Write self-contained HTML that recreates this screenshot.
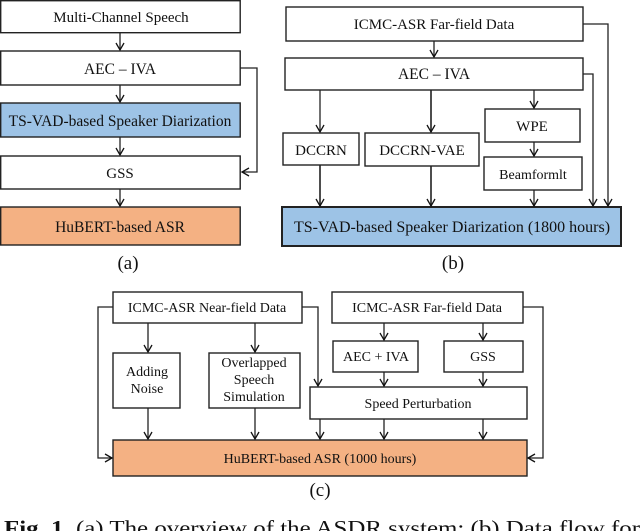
<!DOCTYPE html>
<html><head><meta charset="utf-8"><style>
html,body{margin:0;padding:0;background:#fff}
svg{display:block}
text{font-family:"Liberation Serif",serif;fill:#111}
</style></head><body>
<svg width="640" height="531" viewBox="0 0 640 531" xmlns="http://www.w3.org/2000/svg">
<defs>
<marker id="a" markerWidth="10" markerHeight="10" refX="8" refY="5" orient="auto" markerUnits="userSpaceOnUse">
<path d="M1,1 L8,5 L1,9" fill="none" stroke="#111" stroke-width="1.3"/>
</marker>
</defs>
<g stroke="#222" stroke-width="1.4" fill="#fff">
<rect x="0.7" y="0.7" width="239.5" height="32"/>
<rect x="0.7" y="51" width="239.5" height="34"/>
<rect x="0.7" y="103" width="239.5" height="34" fill="#9DC3E6"/>
<rect x="0.7" y="156" width="239.5" height="33"/>
<rect x="0.7" y="207" width="239.5" height="38" fill="#F4B183"/>
<rect x="286" y="7" width="297" height="34"/>
<rect x="285" y="58" width="298" height="32"/>
<rect x="485" y="109" width="95" height="33"/>
<rect x="283" y="133" width="76" height="32"/>
<rect x="365" y="133" width="114" height="33"/>
<rect x="484" y="157" width="98" height="33"/>
<rect x="282" y="207" width="339" height="39" fill="#9DC3E6" stroke-width="2"/>
<rect x="113" y="292" width="189" height="31"/>
<rect x="332" y="292" width="191" height="31"/>
<rect x="113" y="353" width="67" height="55"/>
<rect x="209" y="353" width="91" height="55"/>
<rect x="333" y="341" width="85" height="31"/>
<rect x="444" y="341" width="79" height="31"/>
<rect x="310" y="387" width="217" height="32"/>
<rect x="113" y="440" width="414" height="36" fill="#F4B183"/>
</g>
<g stroke="#222" stroke-width="1.3" fill="none" marker-end="url(#a)">
<line x1="120" y1="33" x2="120" y2="50"/>
<line x1="120" y1="85" x2="120" y2="102"/>
<line x1="120" y1="137" x2="120" y2="155"/>
<line x1="120" y1="189" x2="120" y2="206"/>
<polyline points="240,68 257,68 257,172 242,172"/>
<line x1="434" y1="41" x2="434" y2="57"/>
<line x1="320" y1="90" x2="320" y2="132"/>
<line x1="431" y1="90" x2="431" y2="132" stroke-width="1.6"/>
<line x1="534" y1="90" x2="534" y2="108"/>
<line x1="534" y1="142" x2="534" y2="156"/>
<line x1="320" y1="165" x2="320" y2="206" stroke-width="1.6"/>
<line x1="431" y1="166" x2="431" y2="206" stroke-width="1.6"/>
<line x1="534" y1="190" x2="534" y2="206"/>
<polyline points="583,74 593,74 593,206"/>
<polyline points="583,24 608,24 608,206"/>
<line x1="148" y1="323" x2="148" y2="352"/>
<line x1="255" y1="323" x2="255" y2="352"/>
<line x1="384" y1="323" x2="384" y2="340"/>
<line x1="483" y1="323" x2="483" y2="340"/>
<line x1="384" y1="372" x2="384" y2="386"/>
<line x1="483" y1="372" x2="483" y2="386"/>
<line x1="148" y1="408" x2="148" y2="439"/>
<line x1="255" y1="408" x2="255" y2="439"/>
<line x1="320" y1="419" x2="320" y2="439"/>
<line x1="384" y1="419" x2="384" y2="439"/>
<line x1="483" y1="419" x2="483" y2="439"/>
<polyline points="302,307 318,307 318,386"/>
<polyline points="113,307 98,307 98,458 112,458"/>
<polyline points="523,307 543,307 543,458 528,458"/>
</g>
<g font-size="14" text-anchor="middle">
<text x="121" y="22" font-size="15">Multi-Channel Speech</text>
<text x="120" y="74" font-size="15.5">AEC – IVA</text>
<text x="120" y="126" font-size="15.5">TS-VAD-based Speaker Diarization</text>
<text x="120" y="178" font-size="15">GSS</text>
<text x="120" y="232" font-size="15.5">HuBERT-based ASR</text>
<text x="128" y="269" font-size="19">(a)</text>
<text x="434" y="29" font-size="15">ICMC-ASR Far-field Data</text>
<text x="434" y="79" font-size="15.5">AEC – IVA</text>
<text x="532" y="131" font-size="15">WPE</text>
<text x="321" y="155" font-size="15">DCCRN</text>
<text x="422" y="155" font-size="15">DCCRN-VAE</text>
<text x="533" y="179">Beamformlt</text>
<text x="452" y="232" font-size="16">TS-VAD-based Speaker Diarization (1800 hours)</text>
<text x="453" y="269" font-size="19">(b)</text>
<text x="207" y="312">ICMC-ASR Near-field Data</text>
<text x="427" y="312">ICMC-ASR Far-field Data</text>
<text x="147" y="376">Adding</text>
<text x="147" y="393">Noise</text>
<text x="254" y="367">Overlapped</text>
<text x="254" y="384">Speech</text>
<text x="254" y="401">Simulation</text>
<text x="376" y="361">AEC + IVA</text>
<text x="483" y="361">GSS</text>
<text x="418" y="408">Speed Perturbation</text>
<text x="320" y="463">HuBERT-based ASR (1000 hours)</text>
<text x="320" y="496" font-size="19">(c)</text>
</g>
<text x="4" y="535" font-size="21" textLength="636" lengthAdjust="spacingAndGlyphs"><tspan font-weight="bold">Fig. 1.</tspan>  (a) The overview of the ASDR system; (b) Data flow for</text>
</svg>
</body></html>
